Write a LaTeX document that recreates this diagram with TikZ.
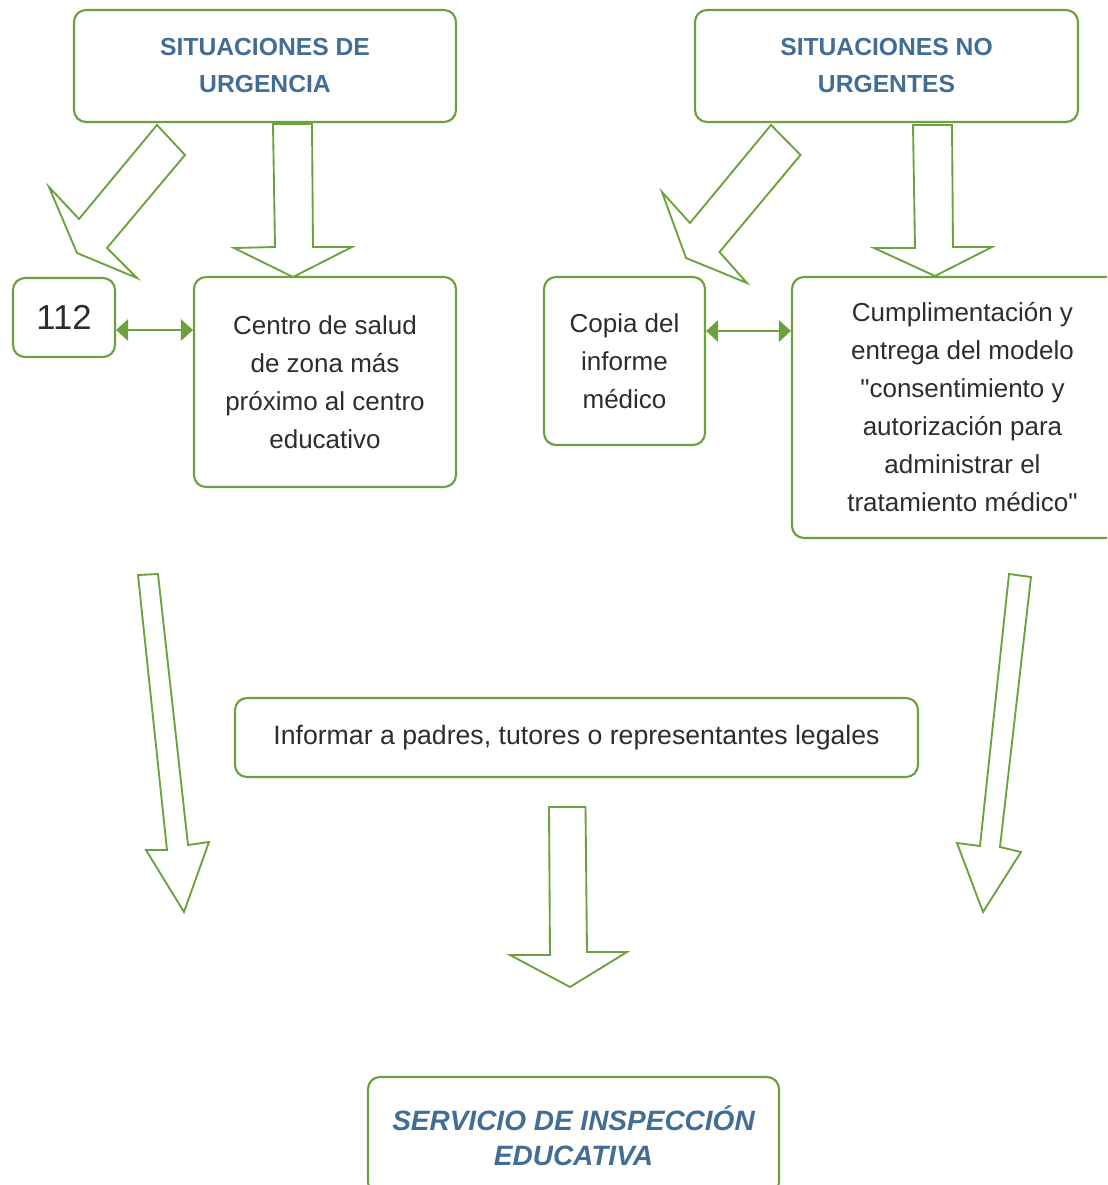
\documentclass[tikz,border=0pt]{standalone}
\usepackage{fontspec}
\setmainfont{Liberation Sans}[Ligatures=TeXOff]
\usetikzlibrary{arrows.meta}
\definecolor{grn}{RGB}{108,162,62}
\definecolor{ttl}{RGB}{66,110,150}
\definecolor{txt}{RGB}{45,45,45}
\tikzset{
  box/.style={draw=grn, line width=1.6pt, rounded corners=9pt, inner sep=0pt, align=center, text=txt,
    font=\fontsize{19.5pt}{28.5pt}\selectfont},
  ttlbox/.style={box, text=ttl, font=\fontsize{18.5pt}{27.75pt}\selectfont\bfseries},
  blockarrow/.style={draw=grn, line width=1.4pt, line join=miter},
  dbl/.style={draw=grn, line width=1.6pt, {Triangle[length=9pt,width=16pt]}-{Triangle[length=9pt,width=16pt]}}
}
\begin{document}
\begin{tikzpicture}[x=0.75pt,y=-0.75pt]
\clip (0,0) rectangle (1107,1185);
\fill[white] (0,0) rectangle (1107,1185);

% boxes
\node[ttlbox, minimum width=286.5pt, minimum height=84pt] (sit1) at (265,66) {SITUACIONES DE\\URGENCIA};
\node[ttlbox, minimum width=287.25pt, minimum height=84pt] (sit2) at (886.5,66) {SITUACIONES NO\\URGENTES};
\node[box, minimum width=76.5pt, minimum height=59.25pt, font=\fontsize{26pt}{30pt}\selectfont] (n112) at (64,317.5) {112};
\node[box, minimum width=196.5pt, minimum height=157.5pt] (centro) at (325,382) {Centro de salud\\de zona más\\próximo al centro\\educativo};
\node[box, minimum width=120.75pt, minimum height=126pt] (copia) at (624.5,361) {Copia del\\informe\\médico};
\node[box, minimum width=255.75pt, minimum height=195.75pt] (cumpl) at (962.5,407.5) {Cumplimentación y\\entrega del modelo\\"consentimiento y\\autorización para\\administrar el\\tratamiento médico"};
\node[box, minimum width=512.25pt, minimum height=59.25pt, font=\fontsize{20pt}{28.5pt}\selectfont] (inf) at (576.5,737.5) {Informar a padres, tutores o representantes legales};
\node[ttlbox, minimum width=308.25pt, minimum height=87.75pt, font=\fontsize{21pt}{26.25pt}\selectfont\bfseries\itshape] (serv) at (573.5,1135.5) {SERVICIO DE INSPECCIÓN\\EDUCATIVA};

% double arrows
\draw[dbl] (n112.east |- 0,330) -- (centro.west |- 0,330);
\draw[dbl] (copia.east |- 0,331) -- (cumpl.west |- 0,331);

% block arrows
\draw[blockarrow] (157,125) -- (79,219) -- (49,187) -- (77,253) -- (137,278) -- (107,248) -- (185,155) -- cycle;
\draw[blockarrow] (273,124) -- (275,247) -- (234,248) -- (293,277) -- (352,247) -- (313,247) -- (312,124) -- cycle;
\draw[blockarrow] (771,125) -- (690,223) -- (662,192) -- (686,258) -- (747,283) -- (719.5,252) -- (800.5,155) -- cycle;
\draw[blockarrow] (913,125) -- (915,248) -- (874,248) -- (935,276) -- (992,247) -- (953,247) -- (952,125) -- cycle;
\draw[blockarrow] (138,575) -- (167,850) -- (146,850) -- (184,912) -- (209,842) -- (188,845) -- (158,574) -- cycle;
\draw[blockarrow] (549,807) -- (550,955) -- (510,955) -- (570,987) -- (627,952) -- (587,952) -- (585.5,807) -- cycle;
\draw[blockarrow] (1009,574) -- (980,846) -- (957,843) -- (983,912) -- (1021,852) -- (1000,847) -- (1031,577) -- cycle;
\end{tikzpicture}
\end{document}
